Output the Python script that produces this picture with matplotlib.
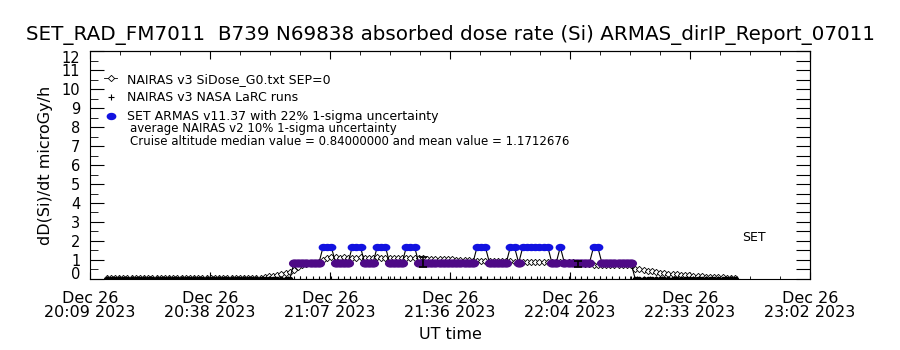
import matplotlib.pyplot as plt
from matplotlib.ticker import MultipleLocator, FixedLocator
from matplotlib.markers import MarkerStyle
from matplotlib.transforms import Affine2D, ScaledTranslation
import numpy as np

# time axis: minutes after Dec 26 2023 20:09 UT
t_start, t_end = 0.0, 173.0
tick_labels = ["Dec 26\n20:09 2023", "Dec 26\n20:38 2023", "Dec 26\n21:07 2023",
               "Dec 26\n21:36 2023", "Dec 26\n22:04 2023", "Dec 26\n22:33 2023",
               "Dec 26\n23:02 2023"]
y_ticks = list(range(13))

# NAIRAS v3 SiDose_G0 (one value per minute, t = 4 ... 155)
nairas_t = np.arange(4, 156)
nairas_dose = ([0.05] * 37 +
               [0.07, 0.10, 0.14, 0.18, 0.23, 0.28, 0.33, 0.38, 0.48, 0.62, 0.75,
                0.80, 0.82, 0.85, 0.90, 1.00, 1.10, 1.15] +
               [1.13, 1.12, 1.14, 1.12, 1.10, 1.12, 1.13, 1.12, 1.11, 1.12, 1.13,
                1.12, 1.11, 1.12, 1.10, 1.12, 1.11, 1.12, 1.10, 1.11, 1.10, 1.10] +
               [1.06, 1.05, 1.05, 1.04, 1.05, 1.04, 1.03, 1.02, 1.01, 1.00] +
               [0.98, 0.97, 0.96, 0.96, 0.95, 0.96, 0.95, 0.95, 0.94, 0.93, 0.92] +
               [0.91, 0.91, 0.90, 0.90, 0.91, 0.90, 0.90, 0.89, 0.90, 0.89, 0.89,
                0.88, 0.88, 0.88, 0.87, 0.86] +
               [0.84, 0.80, 0.77, 0.76, 0.76, 0.75, 0.75, 0.74, 0.73, 0.73, 0.72,
                0.72, 0.71] +
               [0.55, 0.50, 0.46, 0.43, 0.40, 0.36, 0.33, 0.30, 0.28, 0.26, 0.24,
                0.22, 0.20, 0.19, 0.17, 0.15, 0.14, 0.12, 0.11, 0.10, 0.09, 0.08,
                0.07, 0.07, 0.06])

# SET ARMAS v11.37 (one value per minute, t = 4 ... 155)
armas_t = np.arange(4, 156)
lo, hi = 0.84, 1.68
armas_dose = ([0.0] * 45 +
              [lo] * 7 + [hi] * 3 + [lo] * 4 + [hi] * 3 + [lo] * 3 + [hi] * 3 +
              [lo] * 4 + [hi] * 3 + [lo] * 14 + [hi] * 3 + [lo] * 5 + [hi] * 2 +
              [lo] * 1 + [hi] * 7 + [lo] * 2 + [hi] * 1 + [lo] * 7 + [hi] * 2 +
              [lo] * 8 +
              [0.0] * 25)

# NAIRAS v3 NASA LaRC runs (no values, plotted at zero)
larc_t = np.arange(4, 156, 1.5)
larc_dose = np.zeros(len(larc_t))

# average NAIRAS v2 10% 1-sigma uncertainty bars
err_t = [80.0, 117.3]
err_mid = [0.89, 0.79]
err_half = [0.25, 0.17]

blue = '#1212e0'
purple = '#4e0a86'
flat_dot = MarkerStyle('o', transform=Affine2D().scale(1.4, 1.0))

fig = plt.figure(figsize=(9, 3.5), dpi=100)
ax = fig.add_axes([0.1, 0.203, 0.8, 0.651])

nairas_dose = np.array(nairas_dose)
armas_dose = np.array(armas_dose)

ax.plot(nairas_t, nairas_dose, color='black', lw=0.6, marker='D', ms=3.2,
        mfc='white', mec='black', mew=0.6, label='NAIRAS v3 SiDose_G0.txt SEP=0')
ax.plot(larc_t, larc_dose, ls='none', marker='+', ms=5, color='black', mew=0.8,
        label='NAIRAS v3 NASA LaRC runs')
ax.plot(armas_t, armas_dose, color='black', lw=0.8)
zero = armas_dose == 0
ax.plot(armas_t[zero], armas_dose[zero], ls='none', marker='o', ms=3, color='black')
ax.plot(armas_t[armas_dose == lo], armas_dose[armas_dose == lo], ls='none',
        marker=flat_dot, ms=5, color=purple, mec=purple)
ax.plot(armas_t[armas_dose == hi], armas_dose[armas_dose == hi], ls='none',
        marker=flat_dot, ms=4.3, color=blue, mec=blue,
        label='SET ARMAS v11.37 with 22% 1-sigma uncertainty')
ax.errorbar(err_t, err_mid, yerr=err_half, fmt='none', ecolor='black',
            elinewidth=1.2, capsize=3, capthick=1.2)

ax.set_xlim(t_start, t_end)
ax.set_ylim(0, 12)

step = (t_end - t_start) / 6
ax.xaxis.set_major_locator(FixedLocator([t_start + i * step for i in range(7)]))
ax.xaxis.set_minor_locator(MultipleLocator(step / 4))
ax.set_xticklabels(tick_labels, fontsize=11.5, linespacing=0.85)
ax.tick_params(axis='x', which='major', direction='in', length=5, pad=9, top=False)
ax.tick_params(axis='x', which='minor', direction='in', length=2.5, top=False)

ax.set_yticks(y_ticks)
ax.set_yticklabels([str(v) for v in y_ticks])
ax.yaxis.set_minor_locator(MultipleLocator(0.5))
ax.tick_params(axis='y', which='major', direction='in', length=10, pad=7,
               labelsize=10.5, right=False)
ax.tick_params(axis='y', which='minor', direction='in', length=6, right=False)
yt = ax.yaxis.get_major_ticks()
yt[0].label1.set_transform(yt[0].label1.get_transform() +
                           ScaledTranslation(0, 4 / 72, fig.dpi_scale_trans))
yt[-1].label1.set_transform(yt[-1].label1.get_transform() +
                            ScaledTranslation(0, -4 / 72, fig.dpi_scale_trans))

sec_y = ax.secondary_yaxis('right')
sec_y.set_yticks(np.arange(0, 12.5, 0.5))
sec_y.tick_params(direction='in', length=10, labelright=False)
sec_x = ax.secondary_xaxis('top')
sec_x.xaxis.set_major_locator(FixedLocator([t_start + i * step for i in range(7)]))
sec_x.xaxis.set_minor_locator(MultipleLocator(step / 4))
sec_x.tick_params(which='major', direction='in', length=6, labeltop=False)
sec_x.tick_params(which='minor', direction='in', length=3)

ax.set_ylabel('dD(Si)/dt microGy/h', fontsize=11.5, labelpad=6)
ax.set_xlabel('UT time', fontsize=11.5, labelpad=5)

leg = ax.legend(loc='upper left', bbox_to_anchor=(0.02, 0.905), frameon=False,
                fontsize=9, handlelength=1.0, handletextpad=0.8, borderpad=0,
                borderaxespad=0, labelspacing=0.45, numpoints=1)

ax.text(0.055, 0.662, 'average NAIRAS v2 10% 1-sigma uncertainty', fontsize=8.5,
        transform=ax.transAxes, va='center')
ax.text(0.055, 0.605, 'Cruise altitude median value = 0.84000000 and mean value = 1.1712676',
        fontsize=8.5, transform=ax.transAxes, va='center')
ax.text(0.906, 0.18, 'SET', fontsize=9, transform=ax.transAxes, va='center')

fig.text(0.5, 1 - 35 / 350, 'SET_RAD_FM7011  B739 N69838 absorbed dose rate (Si) ARMAS_dirIP_Report_07011',
         ha='center', va='center', fontsize=14.3)

fig.savefig('out.png', dpi=100)
